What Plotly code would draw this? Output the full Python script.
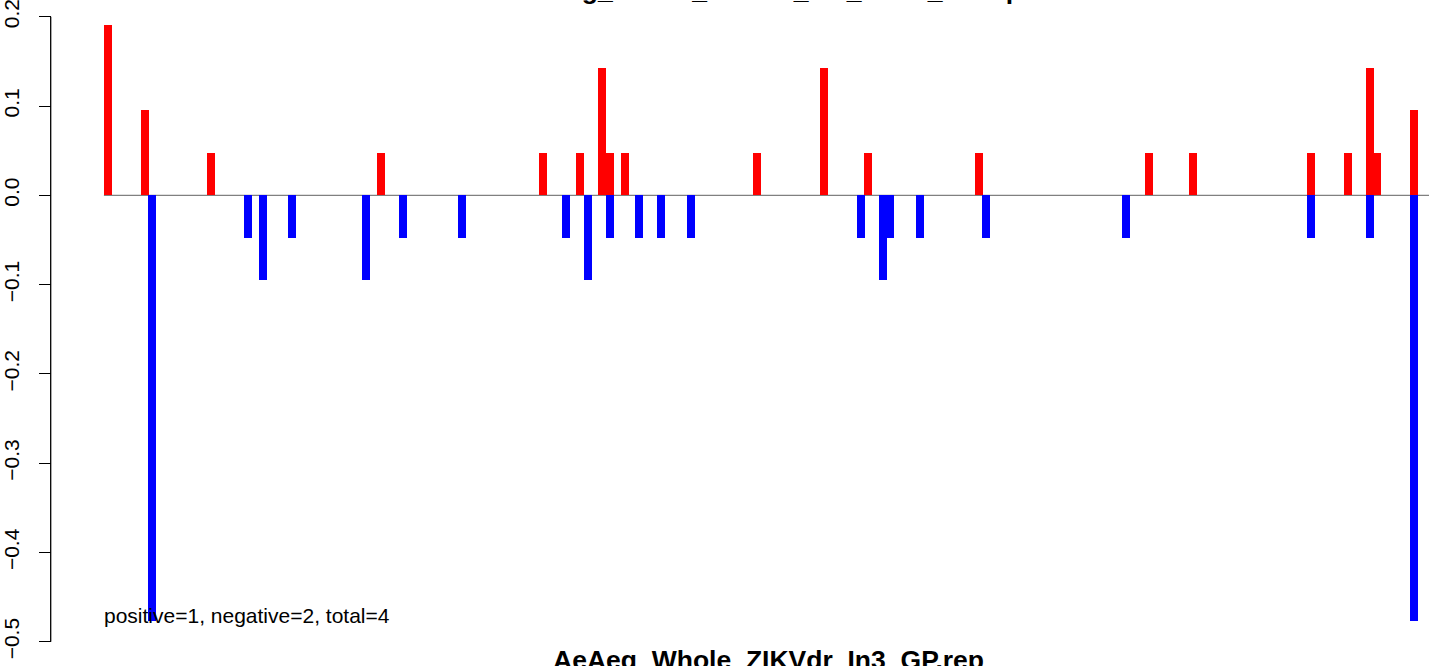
import plotly.graph_objects as go

# slot index along the sequence and bar heights
pos_idx = [0, 5, 14, 37, 59, 64, 67, 68, 70, 88, 97, 103, 118, 141, 147, 163, 168, 171, 172, 177]
pos_val = [0.1905, 0.0952, 0.0476, 0.0476, 0.0476, 0.0476, 0.1429, 0.0476, 0.0476, 0.0476,
           0.1429, 0.0476, 0.0476, 0.0476, 0.0476, 0.0476, 0.0476, 0.1429, 0.0476, 0.0952]
neg_idx = [6, 19, 21, 25, 35, 40, 48, 62, 65, 68, 72, 75, 79, 102, 105, 106, 110, 119, 138, 163, 171, 177]
neg_val = [-0.4762, -0.0476, -0.0952, -0.0476, -0.0952, -0.0476, -0.0476, -0.0476, -0.0952, -0.0476,
           -0.0476, -0.0476, -0.0476, -0.0476, -0.0952, -0.0476, -0.0476, -0.0476, -0.0476, -0.0476,
           -0.0476, -0.4762]
y_ticks = [-0.5, -0.4, -0.3, -0.2, -0.1, 0.0, 0.1, 0.2]
y_tick_text = ["\u22120.5", "\u22120.4", "\u22120.3", "\u22120.2", "\u22120.1", "0.0", "0.1", "0.2"]

title_text = "AeAeg_Whole_ZIKVdr_In3_Gene_Group"
xlabel_text = "AeAeg_Whole_ZIKVdr_In3_GP.rep"
note_text = "positive=1, negative=2, total=4"

W, H = 1429, 666
FONT = "Liberation Sans, Arial, Helvetica, sans-serif"

fig = go.Figure()
fig.add_trace(go.Bar(x=pos_idx, y=pos_val, width=1.08, marker=dict(color="#FF0000", line=dict(width=0)),
                     showlegend=False, hoverinfo="skip"))
fig.add_trace(go.Bar(x=neg_idx, y=neg_val, width=1.08, marker=dict(color="#0000FF", line=dict(width=0)),
                     showlegend=False, hoverinfo="skip"))

axis_pos = 50.7 / W

fig.update_layout(
    width=W, height=H,
    margin=dict(l=0, r=0, t=0, b=0, pad=0),
    paper_bgcolor="white", plot_bgcolor="white",
    barmode="overlay", bargap=0,
    font=dict(family=FONT, color="black"),
    xaxis=dict(visible=False, range=[-14.63, 179.0], domain=[0, 1]),
    yaxis=dict(range=[-0.5271, 0.2187], anchor="free", position=axis_pos,
               showgrid=False, zeroline=False, showline=False,
               ticks="outside", ticklen=12, tickwidth=1, tickcolor="black",
               tickvals=y_ticks, ticktext=y_tick_text, tickangle=-90,
               tickfont=dict(size=21, family=FONT, color="black"),
               ticklabelstandoff=11, ticklabeloverflow="allow"),
    shapes=[
        dict(type="line", xref="x", yref="y", x0=-0.55, x1=181, y0=0, y1=0,
             line=dict(color="#808080", width=1.3), layer="below"),
        dict(type="line", xref="paper", yref="y", x0=axis_pos, x1=axis_pos, y0=-0.5, y1=0.2,
             line=dict(color="black", width=1.3)),
    ],
    annotations=[
        dict(text="<b>" + title_text + "</b>", xref="paper", yref="paper", x=768 / W, y=1 + 10 / H,
             xanchor="center", yanchor="middle", showarrow=False, font=dict(size=26.5, family=FONT)),
        dict(text="<b>" + xlabel_text + "</b>", xref="paper", yref="paper", x=768 / W, y=(H - 660) / H,
             xanchor="center", yanchor="middle", showarrow=False, font=dict(size=26.5, family=FONT)),
        dict(text=note_text, xref="paper", yref="paper", x=102 / W, y=(H - 615) / H,
             xanchor="left", yanchor="middle", showarrow=False, font=dict(size=21, family=FONT)),
    ],
)

fig.write_html("out.html", config={"displayModeBar": False, "staticPlot": True},
               post_script="document.body.style.margin='0';document.body.style.overflow='hidden';")
